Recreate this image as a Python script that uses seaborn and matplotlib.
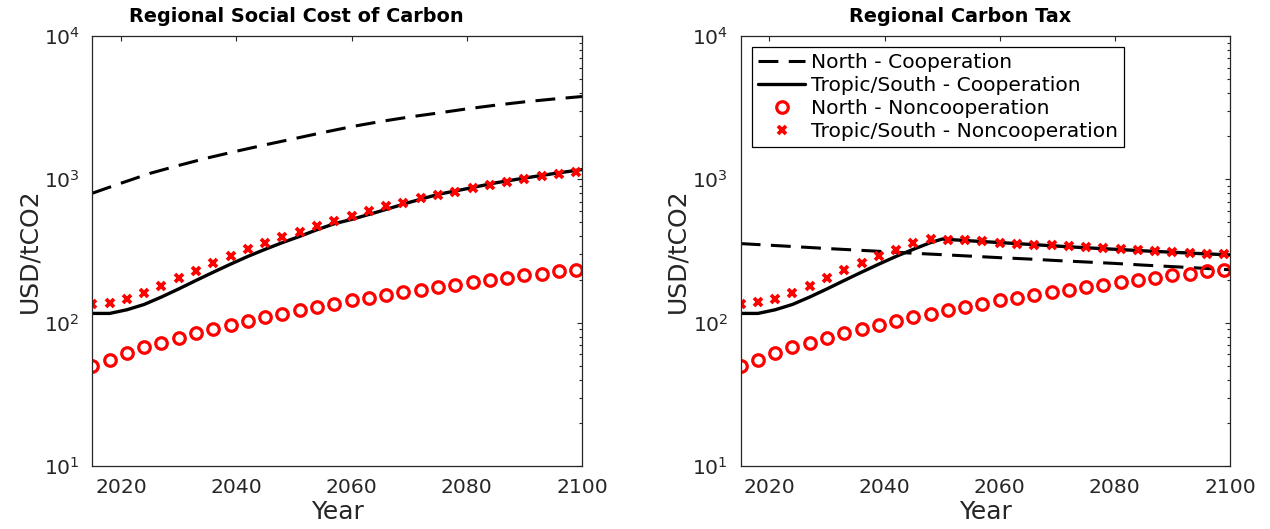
import matplotlib
matplotlib.use("Agg")
import matplotlib.pyplot as plt
import seaborn as sns
from matplotlib.ticker import LogLocator, NullFormatter, FixedLocator, NullLocator

# ---------------- data ----------------
MARKER_YEARS = [2015, 2018, 2021, 2024, 2027, 2030, 2033, 2036, 2039, 2042,
                2045, 2048, 2051, 2054, 2057, 2060, 2063, 2066, 2069, 2072,
                2075, 2078, 2081, 2084, 2087, 2090, 2093, 2096, 2099]

NORTH_NONCOOP = [49.7, 55.3, 61.0, 67.1, 72.6, 78.7, 84.8, 91.0, 97.0, 103.5,
                 109.6, 115.6, 123.3, 128.5, 135.8, 143.2, 149.6, 156.0, 163.7, 169.9,
                 176.4, 184.2, 192.0, 199.5, 206.1, 213.8, 219.6, 228.0, 234.4]

SOUTH_NONCOOP_SCC = [136, 138, 147, 162, 180, 204, 231, 260, 290, 324,
                     359, 393, 431, 471, 511, 557, 600, 647, 689, 735,
                     779, 822, 867, 916, 955, 1002, 1052, 1086, 1132]

SOUTH_NONCOOP_TAX = [136, 139, 147, 162, 181, 205, 232, 262, 292, 323,
                     359, 385, 379, 375, 369, 361, 356, 350, 346, 340,
                     335, 330, 324, 319, 314, 311, 306, 303, 299]

NORTH_COOP_YEARS = [2015, 2020, 2025, 2030, 2035, 2040, 2045, 2050, 2055,
                    2060, 2065, 2070, 2075, 2080, 2085, 2090, 2095, 2100]
NORTH_COOP_SCC = [800, 940, 1100, 1250, 1410, 1570, 1740, 1920, 2120,
                  2330, 2530, 2720, 2900, 3100, 3290, 3470, 3630, 3780]
NORTH_COOP_TAX = [356, 347, 338, 329, 321, 313, 305, 298, 291,
                  284, 278, 271, 265, 259, 252, 246, 240, 234]

SOUTH_COOP_SCC_YEARS = [2015, 2018, 2021, 2024, 2027, 2030, 2033, 2036, 2039,
                        2042, 2045, 2048, 2051, 2054, 2057, 2060, 2065, 2070,
                        2075, 2080, 2085, 2090, 2095, 2100]
SOUTH_COOP_SCC = [116, 116, 123, 134, 151, 172, 197, 225, 256,
                  290, 325, 362, 400, 445, 490, 525, 600, 690,
                  785, 860, 945, 1020, 1095, 1170]

SOUTH_COOP_TAX_YEARS = [2015, 2018, 2021, 2024, 2027, 2030, 2033, 2036, 2039,
                        2042, 2045, 2048, 2050, 2055, 2060, 2065, 2070, 2075,
                        2080, 2085, 2090, 2095, 2100]
SOUTH_COOP_TAX = [116, 116, 123, 134, 151, 172, 197, 225, 256,
                  290, 325, 362, 383, 372, 362, 352, 342, 333,
                  325, 317, 310, 303, 297]

TITLES = ["Regional Social Cost of Carbon", "Regional Carbon Tax"]
SERIES_LABELS = ["North - Cooperation", "Tropic/South - Cooperation",
                 "North - Noncooperation", "Tropic/South - Noncooperation"]
X_LABEL = "Year"
Y_LABEL = "USD/tCO2"
X_TICKS = [2020, 2040, 2060, 2080, 2100]

# ---------------- style ----------------
sns.set_theme(style="white")
plt.rcParams["font.family"] = ["DejaVu Sans"]
plt.rcParams["mathtext.default"] = "regular"
DARK = "#262626"

fig = plt.figure(figsize=(12.7, 5.29), dpi=100)
ax_l = fig.add_axes([0.0727, 0.1191, 0.3856, 0.8129])
ax_r = fig.add_axes([0.5832, 0.1191, 0.3853, 0.8129])

DASH = (0, (6.5, 3.4))


def draw(ax, north_coop, sc_years, south_coop, south_noncoop):
    sns.lineplot(x=NORTH_COOP_YEARS, y=north_coop, ax=ax, color="black",
                 linewidth=2.2, linestyle=DASH, label=SERIES_LABELS[0],
                 errorbar=None)
    sns.lineplot(x=sc_years, y=south_coop, ax=ax, color="black",
                 linewidth=2.4, label=SERIES_LABELS[1], errorbar=None)
    sns.lineplot(x=MARKER_YEARS, y=NORTH_NONCOOP, ax=ax, color="red",
                 linestyle="", marker="o", markersize=8.3,
                 markerfacecolor="none", markeredgecolor="red",
                 markeredgewidth=2.3, label=SERIES_LABELS[2], errorbar=None)
    sns.lineplot(x=MARKER_YEARS, y=south_noncoop, ax=ax, color="red",
                 linestyle="", marker="x", markersize=5.2,
                 markeredgecolor="red", markeredgewidth=2.7,
                 label=SERIES_LABELS[3], errorbar=None)


draw(ax_l, NORTH_COOP_SCC, SOUTH_COOP_SCC_YEARS, SOUTH_COOP_SCC, SOUTH_NONCOOP_SCC)
draw(ax_r, NORTH_COOP_TAX, SOUTH_COOP_TAX_YEARS, SOUTH_COOP_TAX, SOUTH_NONCOOP_TAX)

title_x = [0.416, 0.448]
for i, ax in enumerate([ax_l, ax_r]):
    ax.set_yscale("log")
    ax.set_ylim(10, 1e4)
    ax.set_xlim(2015, 2100)
    ax.xaxis.set_major_locator(FixedLocator(X_TICKS))
    ax.xaxis.set_minor_locator(NullLocator())
    ax.yaxis.set_major_locator(LogLocator(base=10))
    ax.yaxis.set_minor_locator(LogLocator(base=10, subs=[2, 3, 4, 5, 6, 7, 8, 9]))
    ax.yaxis.set_minor_formatter(NullFormatter())
    ax.tick_params(axis="both", which="both", direction="in", top=True,
                   right=True, color=DARK, width=0.8, labelcolor=DARK,
                   labelsize=14.6)
    ax.tick_params(axis="both", which="major", length=3.8)
    ax.tick_params(axis="both", which="minor", length=2.2)
    ax.tick_params(axis="y", which="major", pad=9)
    ax.tick_params(axis="x", which="major", pad=9)
    for sp in ax.spines.values():
        sp.set_color(DARK)
        sp.set_linewidth(0.9)
        sp.set_visible(True)
    ax.set_xlabel(X_LABEL, fontsize=18, color=DARK, labelpad=2)
    ax.set_ylabel(Y_LABEL, fontsize=18, color=DARK, labelpad=2)
    ax.text(title_x[i], 1.0333, TITLES[i], transform=ax.transAxes,
            ha="center", va="baseline", fontsize=13.9, fontweight="bold",
            color="black")
    leg = ax.get_legend()
    if leg is not None:
        leg.remove()

handles, labels = ax_r.get_legend_handles_labels()
leg = ax_r.legend(handles, labels, loc="upper left",
                  bbox_to_anchor=(0.0237, 0.975), borderaxespad=0,
                  prop={"size": 14.6}, frameon=True, fancybox=False,
                  framealpha=1, edgecolor="black", borderpad=0.3,
                  labelspacing=0.2, handlelength=2.3, handletextpad=0.3,
                  numpoints=1)
leg.get_frame().set_linewidth(0.9)
for t in leg.get_texts():
    t.set_color("black")

fig.savefig("out.png", dpi=100)
